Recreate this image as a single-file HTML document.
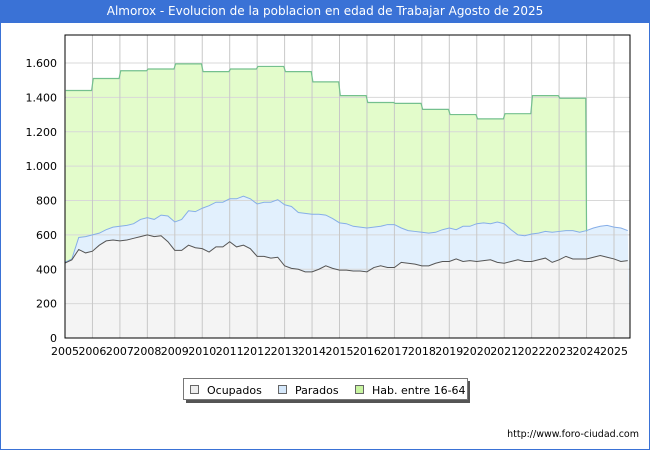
<!DOCTYPE html>
<html><head><meta charset="utf-8"><style>
body{margin:0;width:650px;height:450px;overflow:hidden;background:#fff;font-family:"DejaVu Sans","Liberation Sans",sans-serif}
#wrap{position:absolute;left:0;top:0;width:648px;height:448px;border:1px solid #3a72d6}
#title{position:absolute;left:0;top:0;width:650px;height:23px;background:#3a72d6;color:#fff;font-size:12px;text-align:center;line-height:23px}
svg text{font-family:"DejaVu Sans","Liberation Sans",sans-serif}
</style></head><body>
<div id="wrap"></div>
<div id="title">Almorox - Evolucion de la poblacion en edad de Trabajar Agosto de 2025</div>
<svg id="chart" width="650" height="450" style="position:absolute;left:0;top:0"></svg>
<script>
const yearLabels=[2005,2006,2007,2008,2009,2010,2011,2012,2013,2014,2015,2016,2017,2018,2019,2020,2021,2022,2023,2024,2025];
const yTicks=[0,200,400,600,800,1000,1200,1400,1600];
const yTickLabels=["0","200","400","600","800","1.000","1.200","1.400","1.600"];
const habYears=[2005,2006,2007,2008,2009,2010,2011,2012,2013,2014,2015,2016,2017,2018,2019,2020,2021,2022,2023];
const habValues=[1440,1510,1555,1565,1595,1550,1565,1580,1550,1490,1410,1370,1365,1330,1300,1275,1305,1410,1395];
const quarterStart=2005;
const ocupados=[436,455,515,495,505,540,565,570,565,570,580,590,600,590,595,560,510,510,540,525,520,500,530,530,560,530,540,520,475,475,465,470,420,405,400,385,385,400,420,405,395,395,390,390,385,410,420,410,410,440,435,430,420,420,435,445,445,460,445,450,445,450,455,440,435,445,455,445,445,455,465,440,455,475,460,460,460,470,480,470,460,445,450];
const totalPar=[440,460,585,590,600,610,630,645,650,655,665,690,700,690,715,710,675,690,740,735,755,770,790,790,810,810,825,810,780,790,790,805,775,765,730,725,720,720,715,695,670,665,650,645,640,645,650,660,660,640,625,620,615,610,615,630,640,630,650,650,665,670,665,675,665,630,600,595,605,610,620,615,620,625,625,615,625,640,650,655,645,640,625];
const habEndValue=620;

const L=65,R=630,T=35,B=338;
const X=t=>L+(t-2005)*27.45;
const Y=v=>B-v*275/1600;
const svg=document.getElementById('chart');
const NS='http://www.w3.org/2000/svg';
function mk(tag,attrs){const e=document.createElementNS(NS,tag);for(const k in attrs)e.setAttribute(k,attrs[k]);svg.appendChild(e);return e;}

let e=mk('rect',{x:L,y:T,width:R-L,height:B-T,fill:'#fff'});



let hp=[];
habYears.forEach((yr,i)=>{hp.push([X(yr+0.03),Y(habValues[i])]);hp.push([X(yr+0.97),Y(habValues[i])]);});
hp.push([X(2024),Y(habEndValue)]);
const habLine='M'+hp.map(p=>p.join(',')).join(' L');
e=mk('path',{d:habLine+` L${X(2024)},${B} L${L},${B} Z`,fill:'#e3fccb',stroke:'none'});



const qx=i=>Math.min(X(quarterStart+i*0.25),R);
const tot='M'+totalPar.map((v,i)=>qx(i)+','+Y(v)).join(' L');
e=mk('path',{d:tot+` L${R},${B} L${L},${B} Z`,fill:'#e2f0fd',stroke:'none'});


const oc='M'+ocupados.map((v,i)=>qx(i)+','+Y(v)).join(' L');
e=mk('path',{d:oc+` L${R},${B} L${L},${B} Z`,fill:'#f4f4f4',stroke:'none'});



yTicks.forEach((v,i)=>{
  let g=mk('line',{x1:L,x2:R,y1:Y(v),y2:Y(v),stroke:'#d8d8d8','stroke-width':1});
  
  
  let t=mk('text',{x:L-8,y:Y(v)+4,'text-anchor':'end','font-size':11,fill:'#000'});
  t.textContent=yTickLabels[i];
  
  
});
yearLabels.forEach(yr=>{
  let g=mk('line',{x1:X(yr),x2:X(yr),y1:T,y2:B,stroke:'#c8c8c8','stroke-width':1});
  
  
  let t=mk('text',{x:X(yr),y:355,'text-anchor':'middle','font-size':11,fill:'#000'});
  t.textContent=yr;
  
  
});

e=mk('path',{d:habLine,fill:'none',stroke:'#74c08e','stroke-width':1.2});


e=mk('path',{d:tot,fill:'none',stroke:'#86aee8','stroke-width':1});


e=mk('path',{d:oc,fill:'none',stroke:'#555','stroke-width':1});



e=mk('rect',{x:L,y:T,width:R-L,height:B-T,fill:'none',stroke:'#000','stroke-width':1});



e=mk('rect',{x:186,y:381,width:284,height:22,fill:'#555'});


e=mk('rect',{x:183.5,y:378.5,width:284,height:21,fill:'#fff',stroke:'#777'});


const leg=[["Ocupados","#eeeeee",190],["Parados","#d5e8fb",278],["Hab. entre 16-64","#c8f5a0",355]];
leg.forEach(l=>{
  let s=mk('rect',{x:l[2]+0.5,y:385.5,width:8,height:8,fill:l[1],stroke:'#666'});
  
  
  let t=mk('text',{x:l[2]+17,y:394,'font-size':11,fill:'#000'});
  t.textContent=l[0];
  
  
});
e=mk('text',{x:639,y:437,'text-anchor':'end','font-size':9.5,fill:'#000'});
e.textContent='http://www.foro-ciudad.com';


</script>
</body></html>
